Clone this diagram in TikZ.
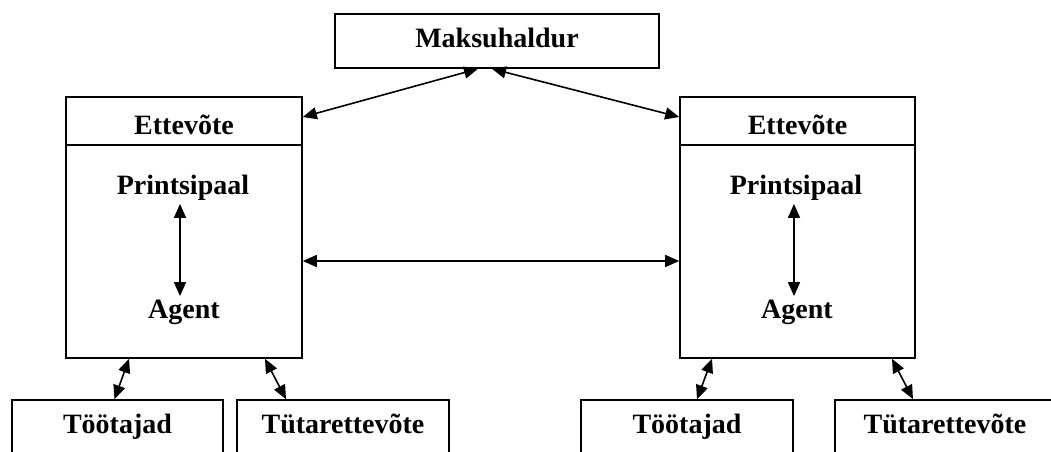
\documentclass[tikz,border=0pt]{standalone}
\usepackage{fontspec}
\setmainfont{Liberation Serif}
\usetikzlibrary{arrows.meta,positioning,calc}
\tikzset{
  box/.style={rectangle, draw=black, fill=white, line width=0.8pt, inner sep=0pt,
              text height=9.5pt, text depth=3pt, font=\bfseries\fontsize{14}{16}\selectfont},
  headbox/.style={box, text height=13pt, text depth=0pt},
  lbl/.style={inner sep=1.5pt, text height=9.5pt, text depth=3pt, font=\bfseries\fontsize{14}{16}\selectfont},
  flow/.style={{Triangle[length=7pt,width=6pt]}-{Triangle[length=7pt,width=6pt]}, draw=black, line width=0.8pt}
}
\begin{document}
\begin{tikzpicture}[x=0.5pt, y=-0.5pt]
 \useasboundingbox (0,0) rectangle (1051,451);
 \clip (0,0) rectangle (1051,451);
 % tax office on top
 \node[box, minimum width=162pt, minimum height=27pt] (tax) at (497,41) {Maksuhaldur};
 % left company
 \node[headbox, minimum width=118pt, minimum height=24pt] (headL) at (184,121) {Ettev\~ote};
 \node[box, minimum width=118pt, minimum height=106.5pt] (bodyL) at (184,251.5) {};
 \node[lbl] (prinL) at (183,188) {Printsipaal};
 \node[lbl] (agL) at (184,312) {Agent};
 % right company
 \node[headbox, minimum width=117.5pt, minimum height=24pt] (headR) at (797.5,121) {Ettev\~ote};
 \node[box, minimum width=117.5pt, minimum height=106.5pt] (bodyR) at (797.5,251.5) {};
 \node[lbl] (prinR) at (796,188) {Printsipaal};
 \node[lbl] (agR) at (797,312) {Agent};
 % lower boxes
 \node[box, minimum width=105.5pt, minimum height=27pt] (staffL) at (117.5,427) {T\"o\"otajad};
 \node[box, minimum width=106pt, minimum height=27pt] (subL) at (343,427) {T\"utarettev\~ote};
 \node[box, minimum width=106pt, minimum height=27pt] (staffR) at (687,427) {T\"o\"otajad};
 \node[box, minimum width=110pt, minimum height=27pt] (subR) at (945,427) {T\"utarettev\~ote};
 % connectors
 \draw[flow] ([xshift=-9.5pt]tax.south) -- ([yshift=2pt]headL.east);
 \draw[flow] ([xshift=-2.5pt]tax.south) -- ([yshift=2pt]headR.west);
 \draw[flow] ([yshift=-4.75pt]bodyL.east) -- ([yshift=-4.75pt]bodyR.west);
 \draw[flow] ([xshift=-1.5pt]prinL.south) -- ([xshift=-2pt]agL.north);
 \draw[flow] ([xshift=-1pt]prinR.south) -- ([xshift=-1.5pt]agR.north);
 \draw[flow] ([xshift=-27.5pt]bodyL.south) -- ([xshift=-1.5pt]staffL.north);
 \draw[flow] ([xshift=40.5pt]bodyL.south) -- ([xshift=-28.5pt]subL.north);
 \draw[flow] ([xshift=-42.75pt]bodyR.south) -- ([xshift=5pt]staffR.north);
 \draw[flow] ([xshift=47.25pt]bodyR.south) -- ([xshift=-16pt]subR.north);
\end{tikzpicture}
\end{document}
